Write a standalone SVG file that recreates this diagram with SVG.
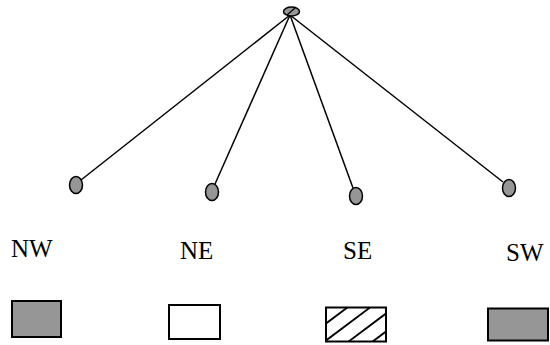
<svg xmlns="http://www.w3.org/2000/svg" width="550" height="345" viewBox="0 0 550 345">
<style>
.dot{fill:#969696;stroke:#000;stroke-width:1.5}
.box{stroke:#000;stroke-width:2}
.lbl{font-family:"Liberation Serif","Times New Roman",serif;font-size:25px;fill:#000}
.edge{stroke:#000;stroke-width:1.5;fill:none}
.hatch{stroke:#000;stroke-width:1.8}
</style>
<defs>
<clipPath id="seclip"><rect x="326" y="307.5" width="60" height="34"/></clipPath>
</defs>
<g id="connectors">
<line class="edge" x1="290" y1="15" x2="81" y2="180"/>
<line class="edge" x1="290" y1="15" x2="215" y2="184"/>
<line class="edge" x1="290" y1="15" x2="353" y2="188"/>
<line class="edge" x1="290" y1="15" x2="503" y2="182"/>
</g>
<g id="root">
<ellipse class="dot" cx="291.5" cy="11.5" rx="8" ry="4.5"/>
<line x1="287" y1="15" x2="295" y2="8" stroke="#000" stroke-width="1.2"/>
</g>
<g id="node-nw">
<ellipse class="dot" cx="76" cy="185" rx="6.5" ry="8.5"/>
<text class="lbl" x="11" y="257">NW</text>
<rect class="box" x="12" y="301" width="49" height="36" fill="#969696"/>
</g>
<g id="node-ne">
<ellipse class="dot" cx="212" cy="192" rx="6.5" ry="8.5"/>
<text class="lbl" x="180" y="259">NE</text>
<rect class="box" x="169" y="305" width="51" height="34" fill="#fff"/>
</g>
<g id="node-se">
<ellipse class="dot" cx="356" cy="196" rx="6.5" ry="8.5"/>
<text class="lbl" x="343" y="259">SE</text>
<rect class="box" x="326" y="307.5" width="60" height="34" fill="#fff"/>
<g clip-path="url(#seclip)">
<line class="hatch" x1="300" y1="343" x2="400" y2="268"/>
<line class="hatch" x1="300" y1="360" x2="400" y2="285"/>
<line class="hatch" x1="300" y1="378" x2="400" y2="303"/>
<line class="hatch" x1="300" y1="396" x2="400" y2="321"/>
</g>
</g>
<g id="node-sw">
<ellipse class="dot" cx="509" cy="188" rx="6.5" ry="8.5"/>
<text class="lbl" x="506" y="261">SW</text>
<rect class="box" x="488" y="308.5" width="60" height="32" fill="#969696"/>
</g>
</svg>
